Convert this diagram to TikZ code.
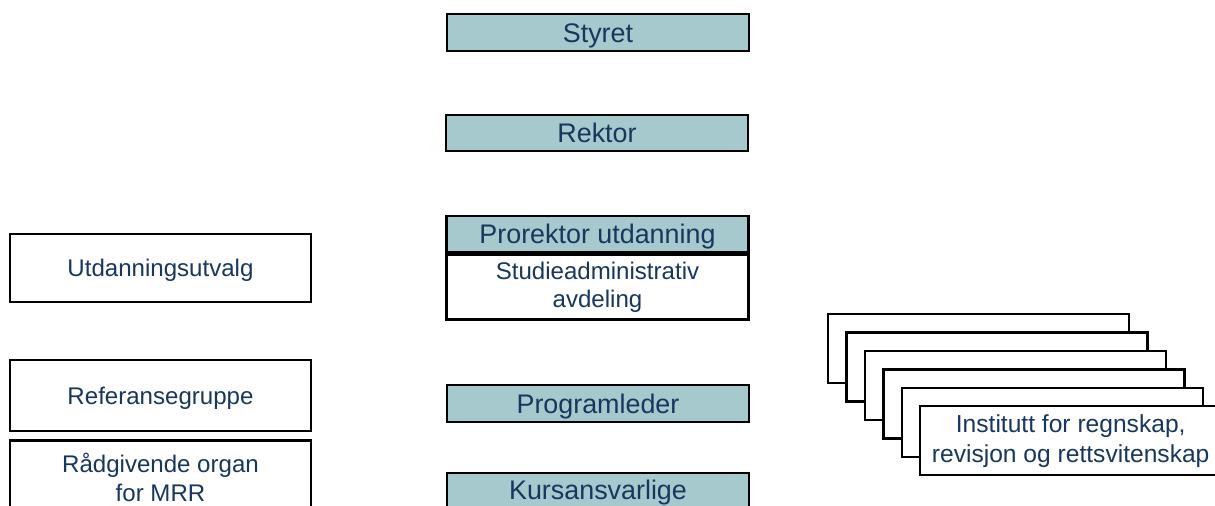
\documentclass[tikz,border=0pt]{standalone}
\usepackage{fontspec}
\setmainfont{Liberation Sans}
\usetikzlibrary{positioning}
\definecolor{boxfill}{HTML}{A6C9CD}
\definecolor{boxtext}{HTML}{17375E}

\begin{document}
\begin{tikzpicture}[x=0.02cm, y=-0.02cm,
        leader/.style={draw, line width=1.4pt, fill=boxfill, text=boxtext, minimum width=6.04cm,
            minimum height=0.73cm, inner sep=0pt, text height=11pt, text depth=0pt,
            font=\fontsize{15.3}{18}\selectfont},
        group/.style={draw, line width=1.4pt, fill=white, text=boxtext, minimum width=6.02cm,
            align=center, inner sep=0pt, font=\fontsize{13.7}{16.4}\selectfont},
        single/.style={text height=9.8pt, text depth=0pt}]
        \useasboundingbox (0,0) rectangle (1215,505);
        \clip (0,0) rectangle (1215,505);

        % midtre kolonne
        \node[leader] (styret) at (598,32.5) {Styret};
        \node[leader] (rektor) at (597,133) {Rektor};
        \node[leader] (prorektor) at (597.5,234) {Prorektor utdanning};
        \node[group, minimum width=6.04cm, minimum height=1.3cm, below=0pt of prorektor,
            font=\fontsize{13.7}{15.5}\selectfont] (studadm) {Studieadministrativ\\avdeling};
        \node[leader] (programleder) at (598,403.5) {Programleder};
        \node[leader, minimum height=0.68cm] (kurs) at (598,490) {Kursansvarlige};

        % venstre kolonne
        \node[group, single, minimum height=1.36cm] (utvalg) at (160.5,268) {Utdanningsutvalg};
        \node[group, single, minimum height=1.42cm] (referanse) at (160.5,395.5) {Referansegruppe};
        \node[group, minimum height=1.48cm, below=0.14cm of referanse] (raad) {R\aa dgivende organ\\for MRR};

        % institutter
        \foreach \i in {0,...,4}
            \node[group, minimum height=1.38cm, anchor=north west] (inst\i) at ({827+18.4*\i},{313+18.4*\i}) {};
        \node[group, minimum height=1.38cm, anchor=north west, font=\fontsize{14}{17}\selectfont] (inst5)
            at ([shift={(18.4,18.4)}]inst4.north west) {Institutt for regnskap,\\revisjon og rettsvitenskap};

    \end{tikzpicture}
\end{document}
